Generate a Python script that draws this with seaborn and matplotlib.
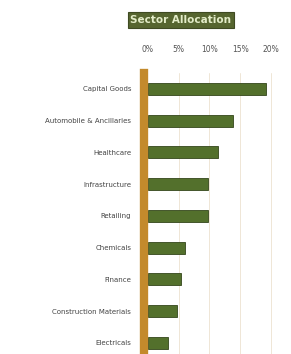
import numpy as np
import pandas as pd
import matplotlib
matplotlib.use("Agg")
import matplotlib.pyplot as plt
import seaborn as sns

# sector allocation (% of portfolio)
sectors = ["Capital Goods", "Automobile & Ancillaries", "Healthcare", "Infrastructure",
           "Retailing", "Chemicals", "Finance", "Construction Materials", "Electricals"]
weights = [19.2, 13.8, 11.4, 9.8, 9.8, 6.0, 5.4, 4.7, 3.3]
ticks = [0, 5, 10, 15, 20]
tick_labels = ["0%", "5%", "10%", "15%", "20%"]

df = pd.DataFrame({"sector": sectors, "weight": weights})

sns.set_style("white")
plt.rcParams['font.family'] = ['DejaVu Sans']

fig = plt.figure(figsize=(2.91, 3.54), dpi=100)
ax = fig.add_axes([148 / 291, 0.0, (277 - 148) / 291, 1 - 73 / 354])

sns.barplot(data=df, x="weight", y="sector", orient="h", color="#53702c",
            saturation=1, width=0.38, edgecolor="#34461b", linewidth=0.6, ax=ax)

ax.set_xlim(0, 21)
ax.set_ylim(8.35, -0.5)
ax.set_xticks(ticks)
ax.set_xticklabels(tick_labels)
ax.xaxis.tick_top()
ax.tick_params(axis="x", length=0, pad=14, labelsize=5.5, colors="#555555")
ax.tick_params(axis="y", length=0, pad=9, labelsize=5, colors="#444444")
ax.set_xlabel("")
ax.set_ylabel("")
for t in ticks[1:]:
    ax.axvline(t, color="#efe6d6", lw=0.7, zorder=0)

for s in ["top", "right", "bottom"]:
    ax.spines[s].set_visible(False)
ax.spines["left"].set_color("#c38a2c")
ax.spines["left"].set_linewidth(6)
ax.spines["left"].set_position(("outward", 3))

fig.text(181 / 291, 1 - 20 / 354, "Sector Allocation", ha="center", va="center",
         fontsize=7.5, fontweight="bold", color="#e3ecc8",
         bbox=dict(boxstyle="square,pad=0.25", facecolor="#56652f", edgecolor="#3f4a22", lw=0.8))

fig.savefig("out.png", dpi=100)
